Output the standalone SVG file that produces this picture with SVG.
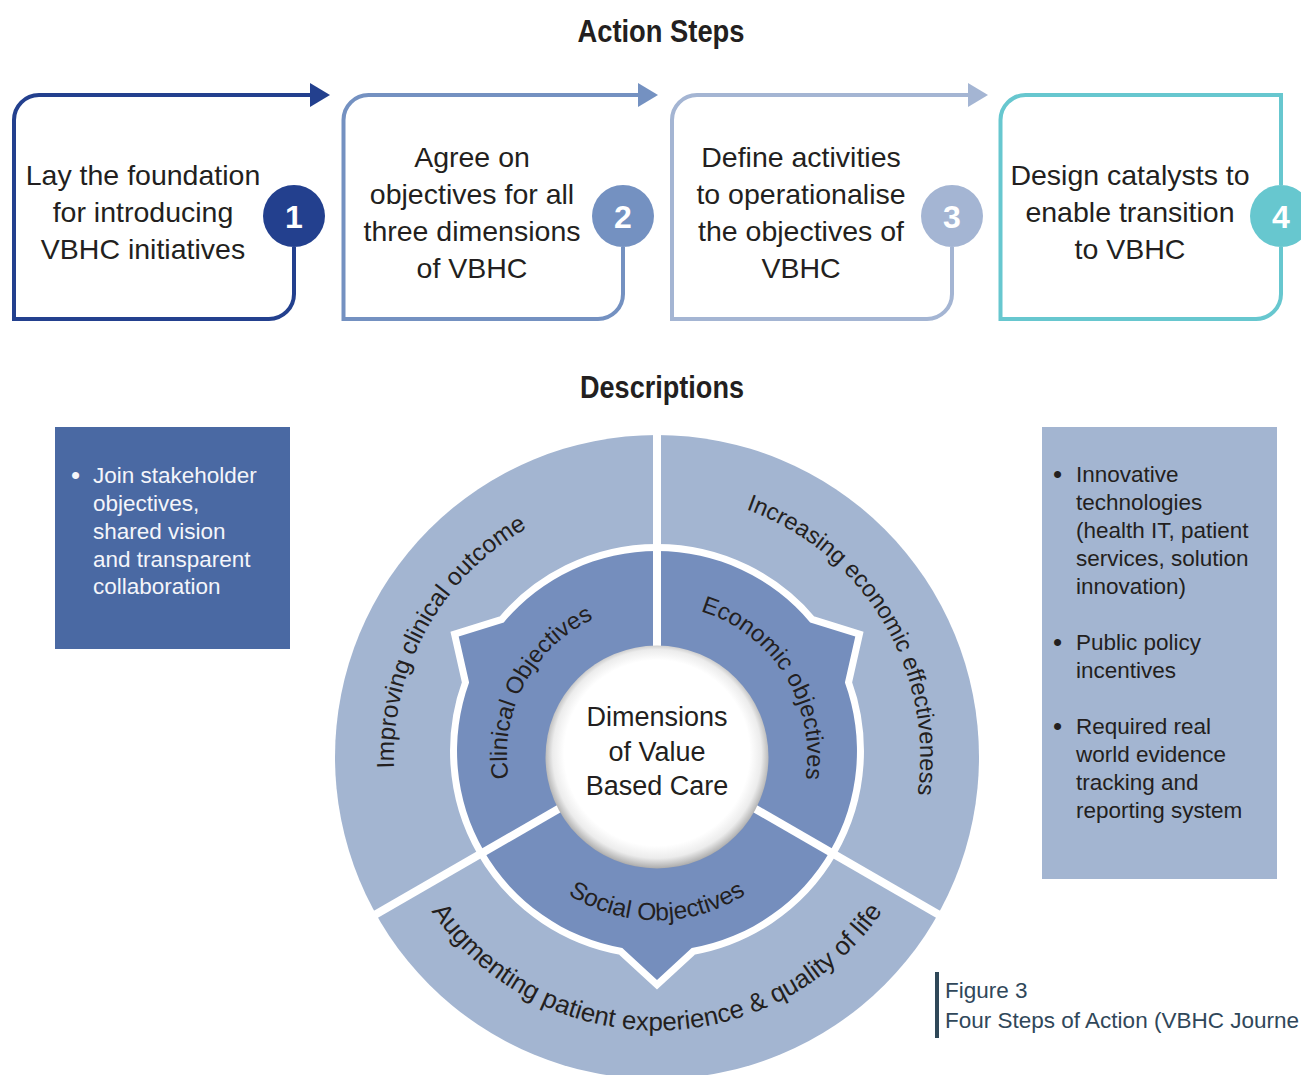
<svg xmlns="http://www.w3.org/2000/svg" width="1301" height="1075" viewBox="0 0 1301 1075">
<style>
.t{font-family:"Liberation Sans",Arial,sans-serif;fill:#231f20;}
.title{font-size:31px;font-weight:bold;text-anchor:middle;}
.step{font-size:28.5px;text-anchor:middle;}
.num{font-size:32px;font-weight:bold;fill:#fff;text-anchor:middle;}
.panel{font-size:22.5px;}
.bul{font-size:26px;}
.white{fill:#f4f5fa;}
.box{fill:none;stroke-width:4;}
.div{stroke:#fff;stroke-width:8;}
.cap{font-size:22.5px;fill:#30475a;}
</style>
<defs>
<marker id="m1" markerUnits="userSpaceOnUse" markerWidth="22" markerHeight="26" refX="1" refY="12" orient="auto"><path d="M0,0 L20,12 L0,24 Z" fill="#23408e"/></marker>
<marker id="m2" markerUnits="userSpaceOnUse" markerWidth="22" markerHeight="26" refX="1" refY="12" orient="auto"><path d="M0,0 L20,12 L0,24 Z" fill="#7491c1"/></marker>
<marker id="m3" markerUnits="userSpaceOnUse" markerWidth="22" markerHeight="26" refX="1" refY="12" orient="auto"><path d="M0,0 L20,12 L0,24 Z" fill="#a4b5d3"/></marker>
<radialGradient id="cg" cx="0.5" cy="0.49" r="0.52" fx="0.5" fy="0.45">
<stop offset="0.8" stop-color="#ffffff"/>
<stop offset="0.9" stop-color="#ececec"/>
<stop offset="0.97" stop-color="#b5b5b5"/>
<stop offset="1" stop-color="#9a9a9a"/>
</radialGradient>
<path id="pA" d="M 509.9 975.0 A 263 263 0 0 1 764.0 516.7"/>
<path id="pB" d="M 541.7 520.6 A 263 263 0 0 1 811.6 969.8"/>
<path id="pC" d="M 385.0 780.8 A 273 273 0 0 0 929.0 780.8"/>
<path id="pD" d="M 575.3 880.8 A 150 150 0 0 1 715.6 616.9"/>
<path id="pE" d="M 588.9 621.3 A 150 150 0 0 1 747.3 874.8"/>
<path id="pF" d="M 492.6 769.4 A 165 165 0 0 0 821.4 769.4"/>
<path id="inner" d="M 469.1 682.6 L 458.7 636.5 L 503.8 622.4 A 200 200 0 0 1 810.2 622.4 L 855.3 636.5 L 844.9 682.6 A 200 200 0 0 1 691.7 948.0 L 657 980 L 622.3 948.0 A 200 200 0 0 1 469.1 682.6 Z"/>
</defs>

<text class="t title" x="661" y="42" textLength="167" lengthAdjust="spacingAndGlyphs">Action Steps</text>
<text class="t title" x="662" y="398" textLength="164" lengthAdjust="spacingAndGlyphs">Descriptions</text>

<g id="step1">
<path class="box" stroke="#23408e" d="M 294 247 V 294 A 25 25 0 0 1 269 319 H 14 V 120 A 25 25 0 0 1 39 95 H 300"/>
<circle cx="294" cy="216" r="31" fill="#23408e"/>
<text class="t num" x="294" y="227.5">1</text>
<text class="t step" x="143" y="185">Lay the foundation</text>
<text class="t step" x="143" y="222">for introducing</text>
<text class="t step" x="143" y="259">VBHC initiatives</text>
</g>
<g id="step2">
<path class="box" stroke="#7491c1" d="M 623 247 V 294 A 25 25 0 0 1 598 319 H 343.5 V 120 A 25 25 0 0 1 368.5 95 H 630"/>
<circle cx="623" cy="216" r="31" fill="#7491c1"/>
<text class="t num" x="623" y="227.5">2</text>
<text class="t step" x="472" y="167">Agree on</text>
<text class="t step" x="472" y="204">objectives for all</text>
<text class="t step" x="472" y="241">three dimensions</text>
<text class="t step" x="472" y="278">of VBHC</text>
</g>
<g id="step3">
<path class="box" stroke="#a4b5d3" d="M 952 247 V 294 A 25 25 0 0 1 927 319 H 672 V 120 A 25 25 0 0 1 697 95 H 958"/>
<circle cx="952" cy="216" r="31" fill="#a4b5d3"/>
<text class="t num" x="952" y="227.5">3</text>
<text class="t step" x="801" y="167">Define activities</text>
<text class="t step" x="801" y="204">to operationalise</text>
<text class="t step" x="801" y="241">the objectives of</text>
<text class="t step" x="801" y="278">VBHC</text>
</g>
<g id="step4">
<path class="box" stroke="#67c7cf" d="M 1281 247 V 294 A 25 25 0 0 1 1256 319 H 1000.5 V 120 A 25 25 0 0 1 1025.5 95 H 1281 V 185"/>
<circle cx="1281" cy="216" r="31" fill="#67c7cf"/>
<text class="t num" x="1281" y="227.5">4</text>
<text class="t step" x="1130" y="185">Design catalysts to</text>
<text class="t step" x="1130" y="222">enable transition</text>
<text class="t step" x="1130" y="259">to VBHC</text>
</g>

<g id="connectors" fill="none" stroke-width="4">
<path d="M 296 95 H 311" stroke="#23408e" marker-end="url(#m1)"/>
<path d="M 625 95 H 639" stroke="#7491c1" marker-end="url(#m2)"/>
<path d="M 954 95 H 969" stroke="#a4b5d3" marker-end="url(#m3)"/>
</g>

<g id="panel-left">
<rect x="55" y="427" width="235" height="222" fill="#4a69a3"/>
<text class="t bul white" x="71" y="484">•</text>
<text class="t panel white" x="93" y="483">Join stakeholder</text>
<text class="t panel white" x="93" y="511">objectives,</text>
<text class="t panel white" x="93" y="539">shared vision</text>
<text class="t panel white" x="93" y="567">and transparent</text>
<text class="t panel white" x="93" y="594">collaboration</text>
</g>

<g id="panel-right">
<rect x="1042" y="427" width="235" height="452" fill="#a3b5d1"/>
<text class="t bul" x="1053" y="483">•</text>
<text class="t panel" x="1076" y="482">Innovative</text>
<text class="t panel" x="1076" y="510">technologies</text>
<text class="t panel" x="1076" y="538">(health IT, patient</text>
<text class="t panel" x="1076" y="566">services, solution</text>
<text class="t panel" x="1076" y="594">innovation)</text>
<text class="t bul" x="1053" y="651">•</text>
<text class="t panel" x="1076" y="650">Public policy</text>
<text class="t panel" x="1076" y="678">incentives</text>
<text class="t bul" x="1053" y="735">•</text>
<text class="t panel" x="1076" y="734">Required real</text>
<text class="t panel" x="1076" y="762">world evidence</text>
<text class="t panel" x="1076" y="790">tracking and</text>
<text class="t panel" x="1076" y="818">reporting system</text>
</g>

<g id="wheel">
<circle cx="657" cy="757" r="322" fill="#a3b5d1"/>
<use href="#inner" fill="#fff" stroke="#fff" stroke-width="14" stroke-linejoin="miter"/>
<use href="#inner" fill="#758ebd"/>
<line class="div" x1="657" y1="757" x2="657" y2="430"/>
<line class="div" x1="657" y1="752" x2="371.2" y2="917"/>
<line class="div" x1="657" y1="752" x2="942.8" y2="917"/>
</g>

<g id="outer-clinical">
<text class="t" font-size="24.5"><textPath href="#pA" startOffset="50%" text-anchor="middle">Improving clinical outcome</textPath></text>
</g>
<g id="outer-economic">
<text class="t" font-size="23.6"><textPath href="#pB" startOffset="50%" text-anchor="middle">Increasing economic effectiveness</textPath></text>
</g>
<g id="outer-social">
<text class="t" font-size="25.8"><textPath href="#pC" startOffset="50%" text-anchor="middle">Augmenting patient experience &amp; quality of life</textPath></text>
</g>
<g id="inner-clinical">
<text class="t" font-size="23.7"><textPath href="#pD" startOffset="50%" text-anchor="middle">Clinical Objectives</textPath></text>
</g>
<g id="inner-economic">
<text class="t" font-size="23.7"><textPath href="#pE" startOffset="50%" text-anchor="middle">Economic objectives</textPath></text>
</g>
<g id="inner-social">
<text class="t" font-size="24.5"><textPath href="#pF" startOffset="50%" text-anchor="middle">Social Objectives</textPath></text>
</g>

<g id="center">
<circle cx="657" cy="757" r="111.5" fill="url(#cg)"/>
<text class="t" font-size="27" text-anchor="middle" x="657" y="726">Dimensions</text>
<text class="t" font-size="27" text-anchor="middle" x="657" y="761">of Value</text>
<text class="t" font-size="27" text-anchor="middle" x="657" y="795">Based Care</text>
</g>

<g id="caption">
<rect x="935" y="972" width="4" height="66" fill="#2f4858"/>
<text class="t cap" x="945" y="998">Figure 3</text>
<text class="t cap" x="945" y="1028" textLength="354" lengthAdjust="spacingAndGlyphs">Four Steps of Action (VBHC Journe</text>
</g>
</svg>
